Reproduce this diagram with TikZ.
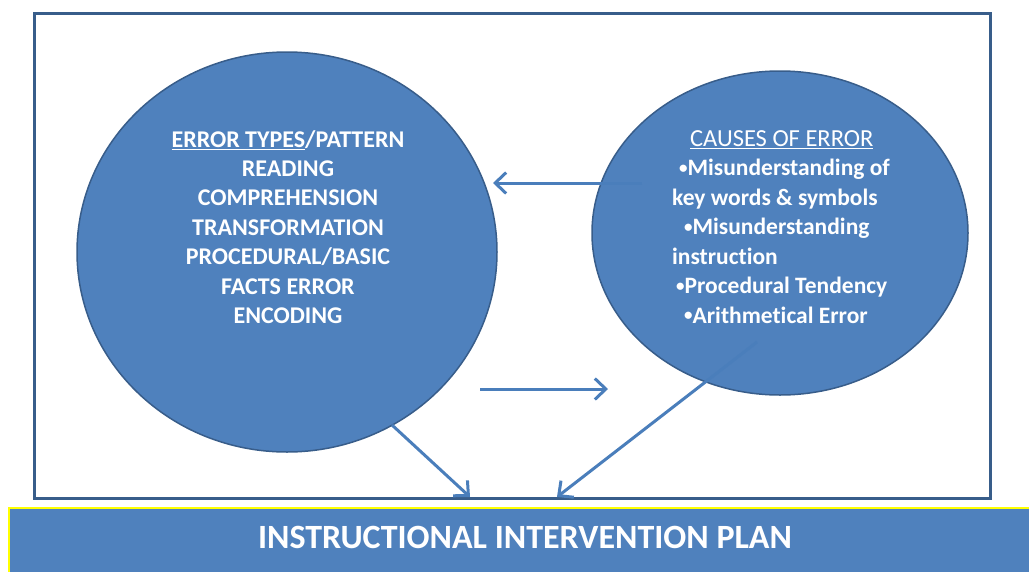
\documentclass[tikz,border=0pt]{standalone}
\usepackage{fontspec}
\setmainfont{Carlito}[Ligatures=NoCommon]
\usepackage{tikz}
\usetikzlibrary{arrows.meta,shapes}

\definecolor{ovalblue}{HTML}{4F81BD}
\definecolor{ovalline}{HTML}{385D8A}
\definecolor{arrowblue}{HTML}{4A7EBB}
\definecolor{planyellow}{HTML}{FFFF00}

\newcommand{\causebullet}{\raisebox{2.5pt}{\fontsize{17}{17}\selectfont\textbullet}}

\tikzset{
    oval/.style={ellipse,draw=ovalline,line width=1.5pt,fill=ovalblue,inner sep=0pt},
    ovaltext/.style={text=white,font=\bfseries\fontsize{24}{29.4}\selectfont,inner sep=0pt},
    link/.style={draw=arrowblue,line width=3pt,-{Straight Barb[length=11pt,width=21pt,line width=3pt]}}
}

\begin{document}
\begin{tikzpicture}[x=1pt,y=-1pt]
    \useasboundingbox (0,0) rectangle (1029,571);
    \draw[ovalline,line width=3pt] (34.5,13.5) rectangle (990,498);

    \node[oval,minimum width=420pt,minimum height=400pt] (types) at (287,252) {};
    \node[oval,minimum width=376pt,minimum height=324pt] (causes) at (780,233) {};

    \node[ovaltext,align=center] (typeslist) at (288,227) {%
        \underline{ERROR TYPES}/PATTERN\\
        READING\\
        COMPREHENSION\\
        TRANSFORMATION\\
        PROCEDURAL/BASIC\\
        FACTS ERROR\\
        ENCODING};
    \node[ovaltext,align=left,font=\bfseries\fontsize{23.5}{29.5}\selectfont] (causeslist) at (781,227) {%
        \hspace*{18pt}\underline{\mdseries\fontsize{24.5}{29.5}\selectfont CAUSES OF ERROR}\\
        \hspace*{7pt}\causebullet Misunderstanding of\\
        key words \& symbols\\
        \hspace*{12pt}\causebullet Misunderstanding\\
        instruction\\
        \hspace*{4pt}\causebullet Procedural Tendency\\
        \hspace*{12pt}\causebullet Arithmetical Error};

    \coordinate (fromcauses) at (642,183);
    \coordinate (intotypes) at (493,183);
    \coordinate (fromtypes) at (480,389);
    \coordinate (intocauses) at (608,389);
    \coordinate (typesfoot) at (392,425);
    \coordinate (causesfoot) at (757,342);
    \coordinate (planleft) at (470,497);
    \coordinate (planright) at (557,497);

    \draw[link] (fromcauses) -- (intotypes);
    \draw[link] (fromtypes) -- (intocauses);
    \draw[link] (typesfoot) -- (planleft);
    \draw[link] (causesfoot) -- (planright);

    \fill[ovalblue] (9,508) rectangle (1040,590);
    \draw[planyellow,line width=2.5pt] (9,590) -- (9,508) -- (1040,508);
    \node[text=white,font=\bfseries\fontsize{34}{38}\selectfont] (plan) at (525,537) {INSTRUCTIONAL INTERVENTION PLAN};
\end{tikzpicture}
\end{document}
